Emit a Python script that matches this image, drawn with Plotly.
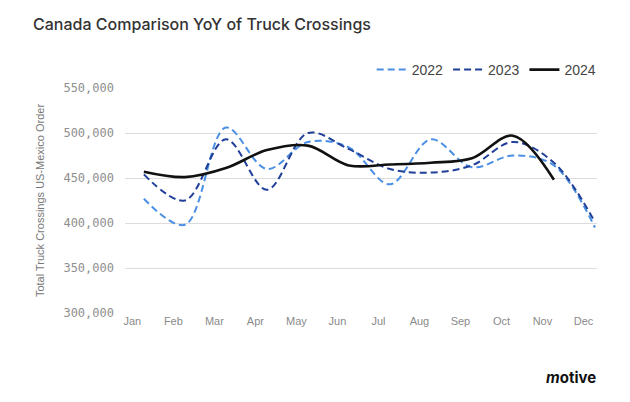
import plotly.graph_objects as go

months = ["Jan", "Feb", "Mar", "Apr", "May", "Jun", "Jul", "Aug", "Sep", "Oct", "Nov", "Dec"]
y2022 = [427000, 398000, 506000, 460000, 490000, 484000, 443000, 493000, 462000, 475000, 464000, 395000]
y2023 = [454000, 425000, 493000, 437000, 500000, 482000, 460000, 456000, 464000, 490000, 467000, 401000]
y2024 = [457000, 451000, 461000, 481000, 486000, 464000, 465000, 467000, 472000, 497000, 448000]
yticks = [300000, 350000, 400000, 450000, 500000, 550000]

xi = list(range(len(months)))

fig = go.Figure()
fig.add_trace(go.Scatter(x=xi, y=y2022, name="2022", mode="lines",
                         line=dict(color="#4a8fe3", width=2, dash="7px,4px", shape="spline", smoothing=1.0)))
fig.add_trace(go.Scatter(x=xi, y=y2023, name="2023", mode="lines",
                         line=dict(color="#1f3f98", width=2, dash="7px,4px", shape="spline", smoothing=1.0)))
fig.add_trace(go.Scatter(x=xi[:len(y2024)], y=y2024, name="2024", mode="lines",
                         line=dict(color="#111111", width=2.6, shape="spline", smoothing=1.0)))

# faint watermarks (positions in pixels of the page)
wm = [(60, 85), (210, 125), (560, 30), (330, 290), (470, 320), (120, 385), (95, 235)]
for (px, py) in wm:
    fig.add_annotation(x=(px - 125) / 472, y=(313 - py) / 225, xref="paper", yref="paper",
                       text="<b>Motive</b>", showarrow=False, textangle=-20,
                       font=dict(family="Inter", size=44, color="rgba(0,0,0,0.022)"))

# logo
fig.add_annotation(x=(598 - 125) / 472, y=(313 - 378) / 225, xref="paper", yref="paper",
                   xanchor="right", yanchor="middle", text="<b><i>m</i>otive</b>", showarrow=False,
                   font=dict(family="Inter", size=15, color="#111111"))

fig.update_layout(
    width=630, height=402,
    margin=dict(l=125, r=33, t=88, b=89),
    paper_bgcolor="white", plot_bgcolor="white",
    title=dict(text="Canada Comparison YoY of Truck Crossings", x=33 / 630, xref="container",
               xanchor="left", y=1 - 24 / 402, yanchor="middle", yref="container",
               font=dict(family="Inter", size=16, color="#333333", weight=500)),
    showlegend=True,
    legend=dict(orientation="h", x=1.01, xanchor="right", y=1 + 18 / 225, yanchor="middle",
                font=dict(family="Liberation Sans", size=14, color="#444444"),
                bgcolor="rgba(0,0,0,0)", itemwidth=30, tracegroupgap=0),
    xaxis=dict(range=[-0.46, 11.05], tickmode="array",
               tickvals=[i - 0.28 for i in xi], ticktext=months,
               showgrid=False, zeroline=False, showline=False, ticks="",
               tickfont=dict(family="Liberation Sans", size=11, color="#8a8a8a")),
    yaxis=dict(range=[300000, 550000], tickmode="array", tickvals=yticks,
               tickformat=",d", showgrid=True, gridcolor="#dcdcdc", gridwidth=1,
               zeroline=False, showline=False, ticks="", ticklabelstandoff=10,
               tickfont=dict(family="DejaVu Sans Mono", size=12, color="#8f8f8f"),
               title=dict(text="Total Truck Crossings US-Mexico Order", standoff=16,
                          font=dict(family="Liberation Sans", size=11, color="#777777"))),
)

fig.write_html("out.html")
